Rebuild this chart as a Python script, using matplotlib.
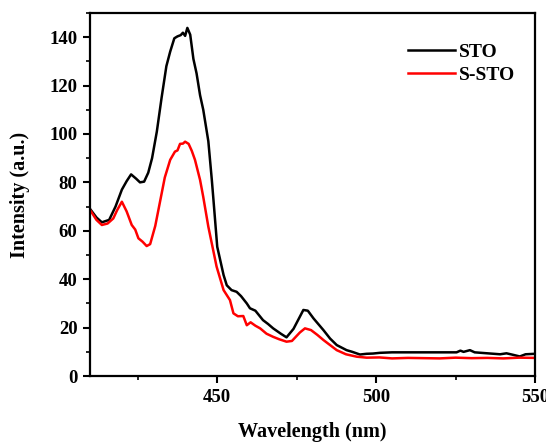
import matplotlib
matplotlib.use('Agg')
import matplotlib.pyplot as plt
from matplotlib.ticker import MultipleLocator

plt.rcParams['font.family'] = ['Liberation Serif', 'DejaVu Serif']
plt.rcParams['font.weight'] = 'bold'

# STO curve (wavelength nm, intensity)
sto_x = [410, 412, 413.7, 416, 418, 420, 421.5, 422.9, 424.5, 425.7, 427, 428.3,
         429.5, 431, 432.5, 434, 435.2, 436.5, 437.5, 438.5, 439.2, 439.9, 440.6,
         441.5, 442.5, 443.5, 444.6, 445.6, 447.2, 448.3, 448.8, 450, 452, 453,
         454.5, 456.1, 457.5, 459.3, 460.3, 462, 464.4, 466, 467.6, 470, 471.8,
         474, 477.1, 478.5, 480.3, 483.4, 485.5, 487.6, 490.7, 492.5, 494.9,
         497, 499, 501.2, 505, 510, 515, 520, 525.3, 526.5, 527.5, 529.5, 531,
         533, 536, 539, 541, 543, 545.2, 547, 550]
sto_y = [69, 65.5, 63.5, 64.5, 70, 77, 80.5, 83.3, 81.5, 80, 80.3, 84,
         90, 101, 115, 128, 134, 139.5, 140.3, 140.8, 141.8, 140.5, 143.8,
         141, 131, 125, 116, 110, 97, 81, 73, 53.4, 41.7, 37.5, 35.5,
         34.8, 33, 30, 28, 27, 23.1, 21.5, 19.7, 17.5, 16, 19.5, 27.3, 27,
         23.8, 19, 15.5, 12.8, 10.7, 10, 8.9, 9.2, 9.3, 9.6, 9.8, 9.8,
         9.8, 9.8, 9.8, 10.5, 10, 10.7, 9.8, 9.6, 9.3, 9.0, 9.4, 8.8,
         8.1, 9.0, 9.2]

# S-STO curve
ssto_x = [410, 412, 413.7, 415.5, 417.3, 418.5, 420, 421.5, 423.1, 424.2, 425.2,
          426.5, 427.8, 428.9, 430.5, 432, 433.5, 435.2, 436.7, 437.5, 438.3,
          439.2, 439.9, 441, 442, 443, 444.6, 445.6, 447.2, 449.8, 452, 454,
          455.1, 456.5, 458.2, 459.3, 460.5, 462, 463.5, 465.5, 467.6, 469.5,
          471.8, 473.5, 476, 477.6, 479.5, 481.5, 483.4, 485.5, 487.6, 490.5,
          493.9, 497, 501, 505, 510, 515, 520, 525, 530, 535, 540, 545, 550]
ssto_y = [68.6, 64.5, 62.4, 63, 65.1, 68.5, 72, 68, 62.4, 60.5, 56.9,
          55.5, 53.7, 54.5, 62, 72, 82, 89.3, 92.7, 93.2, 95.9,
          96, 96.8, 95.9, 93, 89.3, 81, 74, 61.7, 45.2, 35.5, 31.4,
          25.9, 24.7, 24.8, 21, 22.2, 20.8, 19.7, 17.5, 16.2, 15.2,
          14.2, 14.5, 18, 19.7, 19, 17, 14.9, 12.8, 10.7, 9,
          8, 7.6, 7.7, 7.3, 7.5, 7.4, 7.3, 7.6, 7.4, 7.5, 7.3, 7.6, 7.5]

fig = plt.figure(figsize=(5.46, 4.44), dpi=100)
ax = fig.add_axes([0.165, 0.153, 0.815, 0.818])

ax.plot(sto_x, sto_y, color='black', linewidth=1.8, label='STO')
ax.plot(ssto_x, ssto_y, color='red', linewidth=1.8, label='S-STO')

ax.set_xlim(410, 550)
ax.set_ylim(0, 150)
ax.xaxis.set_major_locator(MultipleLocator(50))
ax.xaxis.set_minor_locator(MultipleLocator(25))
ax.yaxis.set_major_locator(MultipleLocator(20))
ax.yaxis.set_minor_locator(MultipleLocator(10))
ax.set_xticks([450, 500, 550])

for s in ax.spines.values():
    s.set_linewidth(1.6)
ax.tick_params(which='major', direction='out', length=5, width=1.5, labelsize=13.5, pad=4)
ax.tick_params(which='minor', direction='out', length=3, width=1.2)

ax.set_xlabel('Wavelength (nm)', fontsize=14.5, fontweight='bold', labelpad=12)
ax.set_ylabel('Intensity (a.u.)', fontsize=14.5, fontweight='bold', labelpad=14)

ax.legend(loc='upper left', bbox_to_anchor=(0.675, 0.965), frameon=False,
          fontsize=14, handlelength=2.4, handletextpad=0.2, labelspacing=0.3)

fig.savefig('out.png', dpi=100)
